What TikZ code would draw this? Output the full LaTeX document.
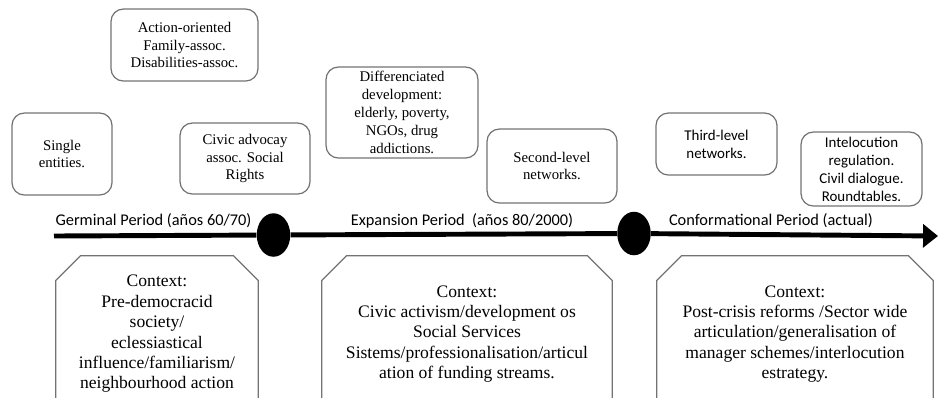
\documentclass[tikz,border=0pt]{standalone}
\usepackage{fontspec}
\setmainfont{Liberation Serif}
\newfontfamily\calibri{Carlito}
\usetikzlibrary{arrows.meta,shapes.geometric}

\begin{document}
\begin{tikzpicture}[
        x=0.02cm, y=-0.02cm,
        event/.style={rectangle, rounded corners=7pt, draw=black!55, line width=0.7pt, align=center, inner sep=0pt, font=\fontsize{8.4}{10.2}\selectfont},
        sansevent/.style={event, font=\calibri\fontsize{8.5}{10.2}\selectfont},
        period/.style={inner sep=0pt, font=\calibri\fontsize{9.3}{11}\selectfont},
        milestone/.style={ellipse, fill=black, minimum width=0.67cm, minimum height=0.87cm, inner sep=0pt},
        timeline/.style={line width=2.8pt, -{Triangle[length=8.5pt,width=13pt]}},
        context/.style={rectangle, minimum height=3.12cm, align=center, inner sep=0pt, font=\fontsize{10}{11.6}\selectfont},
        ctxframe/.style={draw=black!55, line width=0.7pt}
    ]
        \useasboundingbox (0,0) rectangle (938,397);
        \clip (0,0) rectangle (938,397);

        % Actors above the timeline
        \node[event, minimum width=2cm, minimum height=1.64cm] (single) at (62,154) {Single\\entities.};
        \node[event, minimum width=2.94cm, minimum height=1.44cm] (action) at (184.5,45) {Action-oriented\\Family-assoc.\\Disabilities-assoc.};
        \node[event, minimum width=2.6cm, minimum height=1.42cm] (civic) at (245,158.5) {Civic advocay\\assoc. Social\\Rights};
        \node[event, minimum width=3.04cm, minimum height=1.82cm] (diff) at (402,112.5) {Differenciated\\development:\\elderly, poverty,\\NGOs, drug\\addictions.};
        \node[event, minimum width=2.6cm, minimum height=1.48cm] (second) at (552,166) {Second-level\\networks.};
        \node[sansevent, minimum width=2.42cm, minimum height=1.24cm] (third) at (716.5,144) {Third-level\\networks.};
        \node[sansevent, minimum width=2.42cm, minimum height=1.48cm] (intel) at (861.5,169) {Intelocution\\regulation.\\Civil dialogue.\\Roundtables.};

        % Periods
        \node[period] (germinal) at (153.5,221) {Germinal Period (años 60/70)};
        \node[period] (expansion) at (462,221) {Expansion Period~ (años 80/2000)};
        \node[period] (conform) at (771,221) {Conformational Period (actual)};

        % Timeline
        \coordinate (tstart) at (54,236);
        \coordinate (tend) at (938,236);
        \node[milestone] (m1) at (273.5,235) {};
        \node[milestone] (m2) at (634,233.5) {};
        \draw[line width=2.8pt] (tstart) -- (m1);
        \draw[line width=2.8pt] (m1) -- (m2);
        \draw[timeline] (m2) -- (tend);

        % Context boxes
        \node[context, minimum width=4.04cm] (ctxgerm) at (157,334) {Context:\\Pre-democracid\\society/\\eclessiastical\\influence/familiarism/\\neighbourhood action};
        \node[context, minimum width=5.8cm] (ctxexp) at (467,334) {Context:\\Civic activism/development os\\Social Services\\Sistems/professionalisation/articul\\ation of funding streams.};
        \node[context, minimum width=5.52cm] (ctxconf) at (795,334) {Context:\\Post-crisis reforms /Sector wide\\articulation/generalisation of\\manager schemes/interlocution\\estrategy.};

        \draw[ctxframe] (ctxgerm.south west) -- ([yshift=-0.5cm]ctxgerm.north west) -- ([xshift=0.5cm]ctxgerm.north west) -- ([xshift=-0.5cm]ctxgerm.north east) -- ([yshift=-0.5cm]ctxgerm.north east) -- (ctxgerm.south east);
        \draw[ctxframe] (ctxexp.south west) -- ([yshift=-0.5cm]ctxexp.north west) -- ([xshift=0.5cm]ctxexp.north west) -- ([xshift=-0.5cm]ctxexp.north east) -- ([yshift=-0.5cm]ctxexp.north east) -- (ctxexp.south east);
        \draw[ctxframe] (ctxconf.south west) -- ([yshift=-0.5cm]ctxconf.north west) -- ([xshift=0.5cm]ctxconf.north west) -- ([xshift=-0.5cm]ctxconf.north east) -- ([yshift=-0.5cm]ctxconf.north east) -- (ctxconf.south east);
    \end{tikzpicture}
\end{document}
